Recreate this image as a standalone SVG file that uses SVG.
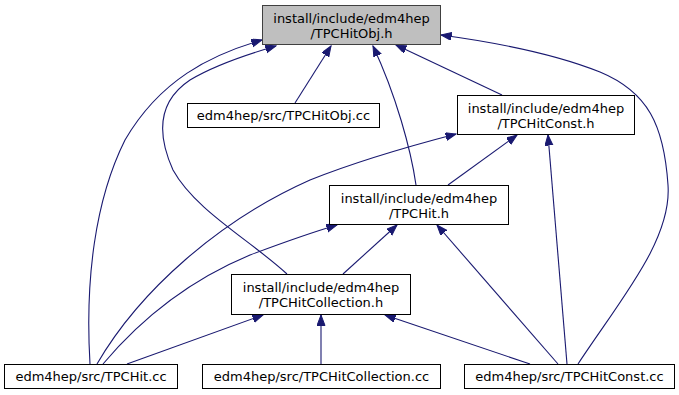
<svg xmlns="http://www.w3.org/2000/svg" width="679" height="395" viewBox="0 0 679 395">
  <style>
    .node rect { fill: #ffffff; stroke: #000000; stroke-width: 1; }
    .node.root rect { fill: #bfbfbf; stroke: #404040; }
    .node text { font-family: "DejaVu Sans", "Noto Sans", sans-serif; font-size: 13px; fill: #000000; text-anchor: middle; }
    .edges path { fill: none; stroke: #191970; stroke-width: 1.1; marker-end: url(#arrow); }
  </style>
  <defs>
    <marker id="arrow" markerUnits="userSpaceOnUse" markerWidth="12" markerHeight="10" refX="10.5" refY="4" orient="auto">
      <path d="M0,0 L10.5,4 L0,8 Z" fill="#191970" stroke="#191970" stroke-width="1"/>
    </marker>
  </defs>
  <rect x="0" y="0" width="679" height="395" fill="#ffffff"/>

  <!-- include-dependency connectors: each points from the including file to the included header -->
  <g id="edges" class="edges">
    <!-- TPCHitObj.cc -> TPCHitObj.h -->
    <path d="M295,103 L331,46"/>
    <!-- TPCHit.h -> TPCHitObj.h -->
    <path d="M416,185 C411,150 396,95 373,46"/>
    <!-- TPCHitConst.h -> TPCHitObj.h -->
    <path d="M502,95 L396,45"/>
    <!-- TPCHitConst.cc -> TPCHitObj.h -->
    <path d="M578,364 C620,300 672,240 668,185 C664,125 648,92 600,72 C560,56 500,43 441,35"/>
    <!-- TPCHit.cc -> TPCHitObj.h -->
    <path d="M90,364 C85,280 95,200 125,140 C160,80 210,55 262,40"/>
    <!-- TPCHitCollection.h -> TPCHitObj.h -->
    <path d="M287,274 C250,240 195,210 173,170 C155,130 160,100 190,80 C215,65 245,55 276,46"/>
    <!-- TPCHit.h -> TPCHitConst.h -->
    <path d="M448,185 L517,135"/>
    <!-- TPCHitConst.cc -> TPCHitConst.h -->
    <path d="M567,364 L548,135"/>
    <!-- TPCHit.cc -> TPCHitConst.h -->
    <path d="M97,364 C140,290 220,220 310,180 C360,160 410,146 456,134"/>
    <!-- TPCHit.cc -> TPCHit.h -->
    <path d="M103,364 C140,320 190,280 250,255 C290,240 310,233 337,225"/>
    <!-- TPCHitCollection.h -> TPCHit.h -->
    <path d="M343,274 L397,225"/>
    <!-- TPCHitConst.cc -> TPCHit.h -->
    <path d="M558,364 L437,225"/>
    <!-- TPCHit.cc -> TPCHitCollection.h -->
    <path d="M127,364 L263,315"/>
    <!-- TPCHitCollection.cc -> TPCHitCollection.h -->
    <path d="M321,364 L321,315"/>
    <!-- TPCHitConst.cc -> TPCHitCollection.h -->
    <path d="M530,364 L385,315"/>
  </g>

  <g id="node_TPCHitObj_h" class="node root">
    <rect x="262.5" y="5.5" width="178" height="39"/>
    <text x="351.5" y="22.5">install/include/edm4hep</text>
    <text x="351.5" y="37.5">/TPCHitObj.h</text>
  </g>

  <g id="node_TPCHitObj_cc" class="node">
    <rect x="187.5" y="103.5" width="192" height="24"/>
    <text x="283.5" y="119.5">edm4hep/src/TPCHitObj.cc</text>
  </g>

  <g id="node_TPCHitConst_h" class="node">
    <rect x="457.5" y="95.5" width="177" height="39"/>
    <text x="546" y="112.5">install/include/edm4hep</text>
    <text x="546" y="127.5">/TPCHitConst.h</text>
  </g>

  <g id="node_TPCHit_h" class="node">
    <rect x="329.5" y="185.5" width="179" height="39"/>
    <text x="419" y="202.5">install/include/edm4hep</text>
    <text x="419" y="217.5">/TPCHit.h</text>
  </g>

  <g id="node_TPCHitCollection_h" class="node">
    <rect x="231.5" y="274.5" width="179" height="40"/>
    <text x="321" y="292">install/include/edm4hep</text>
    <text x="321" y="307">/TPCHitCollection.h</text>
  </g>

  <g id="node_TPCHit_cc" class="node">
    <rect x="4.5" y="364.5" width="173" height="24"/>
    <text x="91" y="381">edm4hep/src/TPCHit.cc</text>
  </g>

  <g id="node_TPCHitCollection_cc" class="node">
    <rect x="202.5" y="364.5" width="238" height="24"/>
    <text x="321.5" y="381">edm4hep/src/TPCHitCollection.cc</text>
  </g>

  <g id="node_TPCHitConst_cc" class="node">
    <rect x="464.5" y="364.5" width="210" height="24"/>
    <text x="569.5" y="381">edm4hep/src/TPCHitConst.cc</text>
  </g>
</svg>
